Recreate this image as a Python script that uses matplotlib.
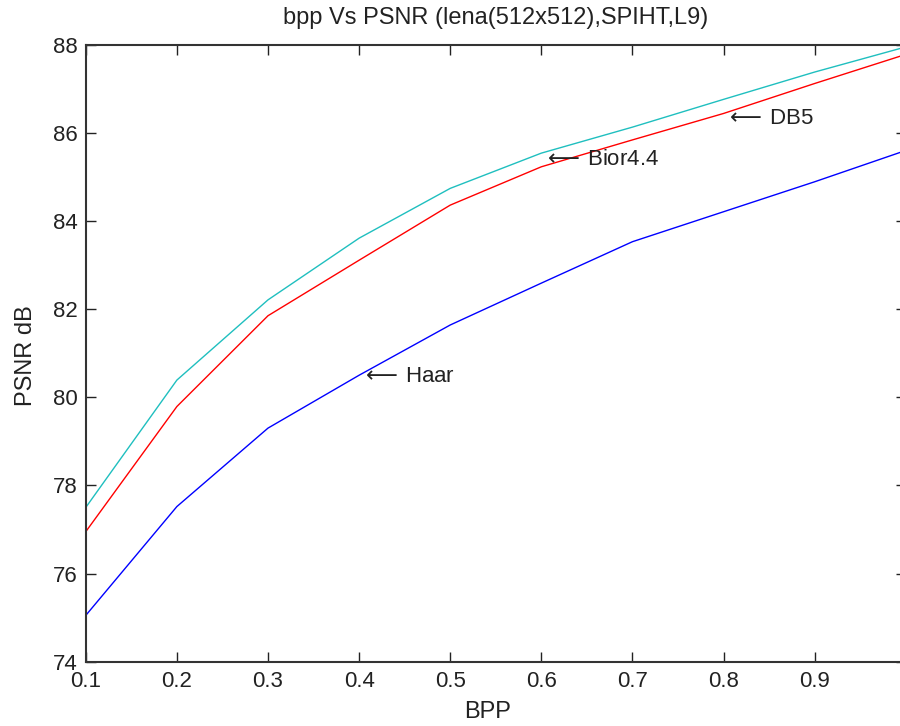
import matplotlib
matplotlib.use("Agg")
import matplotlib.pyplot as plt

plt.rcParams['font.family'] = ['Liberation Sans', 'DejaVu Sans']
plt.rcParams['mathtext.fontset'] = 'dejavusans'

bpp = [0.1, 0.2, 0.3, 0.4, 0.5, 0.6, 0.7, 0.8, 0.9, 1.0]
psnr_haar = [75.05, 77.52, 79.30, 80.50, 81.64, 82.59, 83.53, 84.21, 84.89, 85.60]
psnr_db5 = [76.95, 79.79, 81.85, 83.11, 84.36, 85.23, 85.84, 86.44, 87.12, 87.78]
psnr_bior = [77.50, 80.39, 82.21, 83.61, 84.74, 85.54, 86.13, 86.76, 87.38, 87.95]

xticks = [0.1, 0.2, 0.3, 0.4, 0.5, 0.6, 0.7, 0.8, 0.9, 1.0]
xticklabels = ['0.1', '0.2', '0.3', '0.4', '0.5', '0.6', '0.7', '0.8', '0.9', '1']
yticks = [74, 76, 78, 80, 82, 84, 86, 88]

TXT = '#222222'
FS = 16

fig = plt.figure(figsize=(9.0, 7.26), dpi=100)
ax = fig.add_axes([0.0953, 0.0886, 0.9111, 0.8498])

ax.plot(bpp, psnr_haar, color='#0000ff', lw=1.0)
ax.plot(bpp, psnr_db5, color='#ff0000', lw=1.0)
ax.plot(bpp, psnr_bior, color='#1fbfbf', lw=1.0)

ax.set_xlim(0.1, 1.0)
ax.set_ylim(74, 88)
ax.set_xticks(xticks)
ax.set_xticklabels(xticklabels)
ax.set_yticks(yticks)

ax.tick_params(direction='in', length=7, width=1.0, top=True, right=True,
               labelsize=FS, colors=TXT)
ax.tick_params(axis='x', pad=7)
ax.tick_params(axis='y', pad=6)
for s in ax.spines.values():
    s.set_linewidth(1.5)
    s.set_color('#333333')

ax.text(0.5, 1.0433, 'bpp Vs PSNR (lena(512x512),SPIHT,L9)', transform=ax.transAxes,
        fontsize=17, ha='center', va='center', color=TXT)

ax.set_xlabel('BPP', fontsize=17, color=TXT)
ax.xaxis.set_label_coords(0.49, -0.0815)
ax.xaxis.label.set_va('center')
ax.set_ylabel('PSNR dB', fontsize=17, color=TXT)
ax.yaxis.set_label_coords(-0.0735, 0.496)
ax.yaxis.label.set_va('center')

# labels with a leftward arrow pointing at each curve
ax.text(0.402, 80.46, r'$\longleftarrow\,$Haar', fontsize=FS, ha='left', va='center', color=TXT)
ax.text(0.602, 85.40, r'$\longleftarrow\,$Bior4.4', fontsize=FS, ha='left', va='center', color=TXT)
ax.text(0.802, 86.33, r'$\longleftarrow\,$DB5', fontsize=FS, ha='left', va='center', color=TXT)

fig.savefig('out.png', dpi=100)
